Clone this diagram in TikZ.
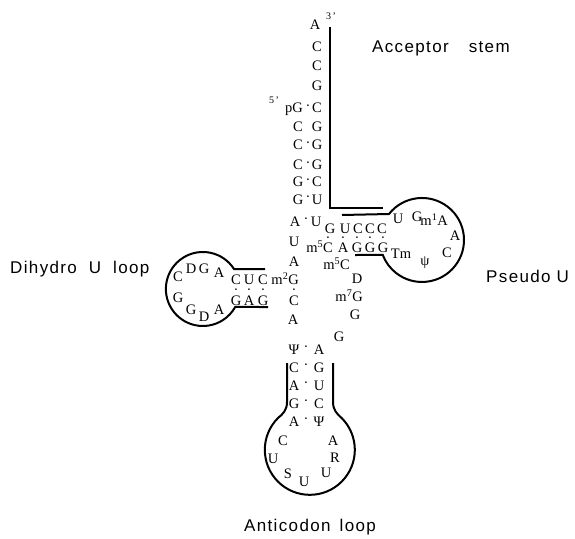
\documentclass[tikz,border=0pt]{standalone}
\usepackage{fontspec}
\setmainfont{Liberation Serif}
\newfontfamily\labelfont[LetterSpace=8]{Liberation Sans}
\begin{document}
\begin{tikzpicture}[x=1pt, y=-1pt,
	nt/.style={inner sep=0pt, font=\fontsize{14.5}{15}\selectfont, text height=9.6pt, text depth=0pt},
	bp/.style={inner sep=0pt, font=\fontsize{14.5}{15}\selectfont},
	sml/.style={inner sep=0pt, font=\fontsize{10}{11}\selectfont},
	lbl/.style={inner sep=0pt, font=\labelfont\fontsize{17}{19}\selectfont},
	strand/.style={line width=2.6pt},
	loop/.style={line width=2pt}]
	\useasboundingbox (0,0) rectangle (575,538);
	% Acceptor stem, 3' side
	\node[nt] (a76) at (315,25) {A};
	\node[sml] (p3) at (331,16) {3\,'};
	\node[nt] (a75) at (317,47) {C};
	\node[nt] (a74) at (317,66) {C};
	\node[nt] (a73) at (317,86) {G};
	\node[nt] (a72) at (317,108) {C};
	\node[nt] (a71) at (317,127) {G};
	\node[nt] (a70) at (317,145) {G};
	\node[nt] (a69) at (317,165) {G};
	\node[nt] (a68) at (317,182) {C};
	\node[nt] (a67) at (317,200) {U};
	\node[nt] (a66) at (316,222) {U};
	% Acceptor stem, 5' side
	\node[sml] (p5) at (274,100) {5\,'};
	\node[nt, anchor=east] (a1) at (303,108) {pG};
	\node[nt] (a2) at (298,127) {C};
	\node[nt] (a3) at (298,145) {C};
	\node[nt] (a4) at (298,165) {C};
	\node[nt] (a5) at (298,182) {G};
	\node[nt] (a6) at (298,200) {G};
	\node[nt] (a7) at (295,222) {A};
	\node[bp] (d1) at (308,108) {·};
	\node[bp] (d3) at (308,145) {·};
	\node[bp] (d4) at (308,165) {·};
	\node[bp] (d5) at (308,182) {·};
	\node[bp] (d6) at (308,199) {·};
	\node[bp] (d7) at (306,221) {·};
	% D arm
	\node[nt] (u8) at (294,242) {U};
	\node[nt] (a9) at (294,262) {A};
	\node[nt, anchor=east] (g10) at (299,280) {m\textsuperscript{2}G};
	\node[nt] (c11) at (263,280) {C};
	\node[nt] (u12) at (249,280) {U};
	\node[nt] (c13) at (236,280) {C};
	\node[nt] (g23) at (236,301) {G};
	\node[nt] (a24) at (249,301) {A};
	\node[nt] (g25) at (263,301) {G};
	\node[nt] (c26) at (294,301) {C};
	\node[bp] (dd1) at (236,292) {·};
	\node[bp] (dd2) at (249,292) {·};
	\node[bp] (dd3) at (263,292) {·};
	\node[bp] (dd4) at (294,292) {·};
	% D loop
	\node[nt] (a14) at (219,273) {A};
	\node[nt] (g15) at (204,269) {G};
	\node[nt] (d16) at (191,269) {D};
	\node[nt] (c17) at (178,277) {C};
	\node[nt] (g18) at (178,298) {G};
	\node[nt] (g19) at (191,310) {G};
	\node[nt] (d20) at (204,317) {D};
	\node[nt] (a21) at (219,310) {A};
	% Anticodon stem
	\node[nt] (a27) at (293,320) {A};
	\node[nt] (s28) at (294,350) {Ψ};
	\node[nt] (c29) at (294,368) {C};
	\node[nt] (a30) at (294,386) {A};
	\node[nt] (g31) at (294,404) {G};
	\node[nt] (a32) at (294,422) {A};
	\node[nt] (a44) at (319,350) {A};
	\node[nt] (g43) at (319,368) {G};
	\node[nt] (u42) at (319,386) {U};
	\node[nt] (c41) at (319,404) {C};
	\node[nt] (s40) at (319,422) {Ψ};
	\node[bp] (da1) at (306,349) {·};
	\node[bp] (da2) at (306,367) {·};
	\node[bp] (da3) at (306,385) {·};
	\node[bp] (da4) at (306,403) {·};
	\node[bp] (da5) at (306,421) {·};
	% Anticodon loop
	\node[nt] (c33) at (283,441) {C};
	\node[nt] (u34) at (273,459) {U};
	\node[nt] (s35) at (288,474) {S};
	\node[nt] (u36) at (304,482) {U};
	\node[nt] (u37) at (326,473) {U};
	\node[nt] (r38) at (335,458) {R};
	\node[nt] (a39) at (333,441) {A};
	% Variable loop
	\node[nt] (g45) at (339,337) {G};
	\node[nt] (g46) at (355,315) {G};
	\node[nt, anchor=east] (g47) at (363,297) {m\textsuperscript{7}G};
	\node[nt] (d48) at (357,279) {D};
	\node[nt, anchor=east] (c49) at (350,265) {m\textsuperscript{5}C};
	% T stem
	\node[nt] (g50) at (330,229) {G};
	\node[nt] (u51) at (345,229) {U};
	\node[nt] (c52) at (358,229) {C};
	\node[nt] (c53) at (370,229) {C};
	\node[nt] (c54) at (382,229) {C};
	\node[nt, anchor=east] (c65) at (333,248) {m\textsuperscript{5}C};
	\node[nt] (a64) at (343,248) {A};
	\node[nt] (g63) at (357,248) {G};
	\node[nt] (g62) at (370,248) {G};
	\node[nt] (g61) at (383,248) {G};
	\node[bp] (dt1) at (328,240) {·};
	\node[bp] (dt2) at (343,240) {·};
	\node[bp] (dt3) at (357,240) {·};
	\node[bp] (dt4) at (370,240) {·};
	\node[bp] (dt5) at (383,240) {·};
	% T loop
	\node[nt] (u55) at (398,219) {U};
	\node[nt] (g56) at (417,217) {G};
	\node[nt, anchor=east] (a57) at (448,221) {m\textsuperscript{1}A};
	\node[nt] (a58) at (455,236) {A};
	\node[nt] (c59) at (447,253) {C};
	\node[nt] (s60) at (425,261) {ψ};
	\node[nt] (t61) at (401,254) {Tm};
	% outlines
	\draw[strand] (330,27) -- (330,208) -- (383,208);
	\draw[loop] (342,215) -- (389,214) arc[start angle=218.2, end angle=519.1, radius=42] -- (355,255);
	\draw[loop] (265,269) -- (234,269) arc[start angle=-32.7, end angle=-330.9, radius=37] -- (268,307);
	\draw[loop] (287,363) -- (287,402) .. controls (287,410) and (283,414) .. (278,418)
		arc[start angle=225, end angle=-45, radius=45]
		.. controls (337,414) and (333,410) .. (333,402) -- (333,363);
	% labels
	\node[lbl, anchor=west] (acc) at (372,48) {Acceptor\hspace{20pt}stem};
	\node[lbl, anchor=west] (dhu) at (10,269) {Dihydro\hspace{12pt}U\hspace{12pt}loop};
	\node[lbl, anchor=west] (psu) at (486,276) {Pseudo\hspace{6pt}U};
	\node[lbl] (ant) at (310,527) {Anticodon\hspace{9pt}loop};
\end{tikzpicture}
\end{document}
